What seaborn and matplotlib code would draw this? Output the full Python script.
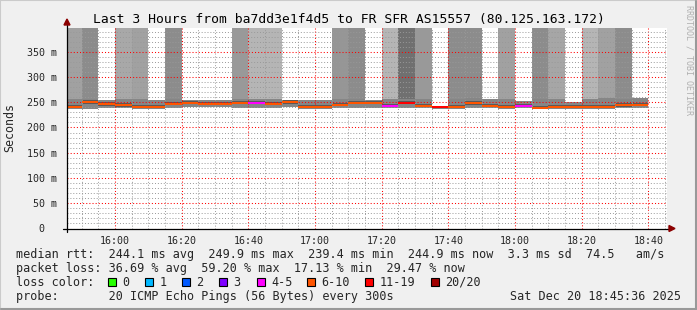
import matplotlib
matplotlib.use("Agg")
import matplotlib.pyplot as plt
import numpy as np
import pandas as pd
import seaborn as sns
from matplotlib.patches import Rectangle, Polygon
from matplotlib.ticker import FixedLocator, MultipleLocator

# ---------------- data ----------------
seg_end = ["15:50", "15:55", "16:00", "16:05", "16:10", "16:15", "16:20", "16:25",
           "16:30", "16:35", "16:40", "16:45", "16:50", "16:55", "17:00", "17:05",
           "17:10", "17:15", "17:20", "17:25", "17:30", "17:35", "17:40", "17:45",
           "17:50", "17:55", "18:00", "18:05", "18:10", "18:15", "18:20", "18:25",
           "18:30", "18:35", "18:40"]
median_ms = [241.5, 249.9, 246.0, 244.0, 241.5, 241.5, 246.7, 249.4, 246.7, 246.7,
             249.4, 249.4, 246.7, 249.5, 241.5, 241.5, 245.4, 249.0, 248.7, 242.2,
             249.4, 242.8, 241.0, 241.5, 248.0, 242.8, 241.5, 242.8, 239.4, 241.0,
             241.0, 240.5, 240.5, 244.0, 244.9]
loss_class = ["6-10"] * 11 + ["4-5"] + ["6-10"] * 7 + ["4-5", "11-19", "6-10", "11-19"] \
    + ["6-10"] * 4 + ["4-5"] + ["6-10"] * 7
smoke_lo = [237.5, 237.0, 239.0, 238.0, 237.0, 237.5, 238.0, 241.0, 240.0, 240.0,
            239.0, 238.0, 238.0, 240.0, 236.9, 236.9, 238.8, 238.8, 239.5, 238.8,
            238.8, 238.8, 236.9, 237.5, 238.8, 238.8, 237.5, 238.0, 236.9, 236.9,
            236.9, 236.9, 237.5, 238.8, 238.8]
smoke_hi = [256.6, 256.6, 254.6, 255.6, 256.6, 254.6, 256.6, 253.6, 253.6, 253.6,
            255.6, 255.6, 255.6, 254.6, 254.6, 254.6, 255.6, 256.6, 254.6, 256.6,
            256.6, 256.6, 243.5, 256.6, 257.6, 255.6, 256.6, 252.6, 256.6, 256.6,
            250.6, 256.6, 257.6, 256.6, 258.6]
spike_density = [0.37, 0.45, 0.0, 0.34, 0.37, 0.0, 0.45, 0.0, 0.0, 0.0,
                 0.40, 0.29, 0.29, 0.0, 0.0, 0.0, 0.41, 0.45, 0.0, 0.29,
                 0.56, 0.40, 0.0, 0.45, 0.45, 0.0, 0.37, 0.0, 0.45, 0.35,
                 0.0, 0.29, 0.37, 0.45, 0.0]

y_ticks = [0, 50, 100, 150, 200, 250, 300, 350]
y_tick_labels = ["0  ", "50 m", "100 m", "150 m", "200 m", "250 m", "300 m", "350 m"]
x_tick_labels = ["16:00", "16:20", "16:40", "17:00", "17:20", "17:40", "18:00", "18:20", "18:40"]
legend_classes = ["0", "1", "2", "3", "4-5", "6-10", "11-19", "20/20"]

title = "Last 3 Hours from ba7dd3e1f4d5 to FR SFR AS15557 (80.125.163.172)"
start_time = "15:45:36"
end_time = "18:45:36"
row_rtt = "median rtt:  244.1 ms avg  249.9 ms max  239.4 ms min  244.9 ms now  3.3 ms sd  74.5   am/s"
row_loss = "packet loss: 36.69 % avg  59.20 % max  17.13 % min  29.47 % now"
row_probe = "probe:       20 ICMP Echo Pings (56 Bytes) every 300s"
stamp = "Sat Dec 20 18:45:36 2025"

# ---------------- style ----------------
loss_colors = {"0": "#26ff00", "1": "#00b8ff", "2": "#0059ff", "3": "#7e00ff",
               "4-5": "#ff00ff", "6-10": "#ff5500", "11-19": "#ff0000", "20/20": "#a10000"}

sns.set_theme(style="white")
plt.rcParams['font.family'] = ['DejaVu Sans Mono', 'DejaVu Sans']

W, H = 697, 310
BG = "#f0f0f0"


def to_min(s):
    p = [int(v) for v in s.split(":")]
    return p[0] * 60 + p[1] + (p[2] / 60 if len(p) > 2 else 0)


def fx(x):
    return x / W


def fy(y):
    return 1 - y / H


fig = plt.figure(figsize=(W / 100, H / 100), dpi=100, facecolor=BG)

AX_L, AX_R, AX_T, AX_B = 67, 667, 28, 228.5
ax = fig.add_axes([fx(AX_L), fy(AX_B), (AX_R - AX_L) / W, (AX_B - AX_T) / H])
ax.set_facecolor("white")

ends = np.array([to_min(s) for s in seg_end])
starts = ends - 5
x0, x1 = to_min(start_time), to_min(end_time)

# spikes (tall smoke)
for s, e, d, hi in zip(starts, ends, spike_density, smoke_hi):
    if d > 0:
        g = 1 - d
        ax.bar(s, 1000 - hi, bottom=hi, width=e - s, align="edge",
               color=(g, g, g), linewidth=0, zorder=1)

# smoke band around the median
for s, e, lo, hi, m in zip(starts, ends, smoke_lo, smoke_hi, median_ms):
    ax.bar(s, hi - lo, bottom=lo, width=e - s, align="edge",
           color="#868686", linewidth=0, zorder=1.2)
    c_lo = max(lo, m - 2.5)
    c_hi = min(hi, m + 4.0)
    ax.bar(s, c_hi - c_lo, bottom=c_lo, width=e - s, align="edge",
           color="#5a5a5a", linewidth=0, zorder=1.3)

# median line coloured by loss
rows = []
for i, (s, e, m, lc) in enumerate(zip(starts, ends, median_ms, loss_class)):
    rows.append({"t": s, "rtt": m, "seg": i, "loss": lc})
    rows.append({"t": e, "rtt": m, "seg": i, "loss": lc})
df = pd.DataFrame(rows)
sns.lineplot(data=df, x="t", y="rtt", hue="loss", units="seg", estimator=None,
             palette=loss_colors, legend=False, linewidth=1.45, ax=ax, zorder=4,
             solid_capstyle="butt")
ax.set_xlabel("")
ax.set_ylabel("")
ax.set_xlim(x0, x1)
ax.set_ylim(0, 397)

# grid
ax.yaxis.set_major_locator(FixedLocator(y_ticks))
ax.yaxis.set_minor_locator(MultipleLocator(10))
xt = [to_min(s) for s in x_tick_labels]
ax.xaxis.set_major_locator(FixedLocator(xt))
ax.xaxis.set_minor_locator(MultipleLocator(5))
ax.set_yticklabels(y_tick_labels)
ax.set_xticklabels(x_tick_labels)
ax.set_axisbelow(False)
ax.grid(which="minor", color=(0.6, 0.6, 0.6, 0.32), linestyle=(0, (1, 2)), linewidth=0.7)
ax.grid(which="major", color=(1.0, 0.0, 0.0, 0.32), linestyle=(0, (1, 2)), linewidth=0.75)
ax.tick_params(axis="both", which="major", labelsize=7.2, length=3, width=0.8,
               color="#404040", direction="out", pad=3)
ax.tick_params(axis="both", which="minor", length=2, width=0.7, color="#a0a0a0", direction="out")
ax.tick_params(axis="y", which="major", pad=4.5)
ax.tick_params(axis="x", which="major", pad=2.5)
for lab in ax.get_yticklabels() + ax.get_xticklabels():
    lab.set_fontfamily("DejaVu Sans Mono")
for sp in ax.spines.values():
    sp.set_visible(False)

# axis lines with arrows
ax_w, ax_h = AX_R - AX_L, AX_B - AX_T


def axx(p):
    return (p - AX_L) / ax_w


def axy(q):
    return (AX_B - q) / ax_h


ax.plot([axx(63), axx(670)], [0, 0], transform=ax.transAxes, color="black",
        lw=0.9, clip_on=False, zorder=6)
ax.plot([0, 0], [axy(232), axy(25)], transform=ax.transAxes, color="black",
        lw=0.9, clip_on=False, zorder=6)
ax.add_patch(Polygon([[axx(669), axy(225.5)], [axx(669), axy(231.5)], [axx(675), axy(228.5)]],
                     closed=True, transform=ax.transAxes, color="#8b0000", clip_on=False, zorder=7))
ax.add_patch(Polygon([[axx(64), axy(25)], [axx(70), axy(25)], [axx(67), axy(19)]],
                     closed=True, transform=ax.transAxes, color="#8b0000", clip_on=False, zorder=7))

# frame shading
fig.patches.append(Rectangle((0, 0), 1, 1, transform=fig.transFigure, fill=False,
                             edgecolor="#cbcbcb", linewidth=1.5, zorder=0))
fig.add_artist(plt.Line2D([fx(1), fx(696)], [fy(309), fy(309)], color="#999999", lw=1.5))
fig.add_artist(plt.Line2D([fx(696), fx(696)], [fy(1), fy(309)], color="#999999", lw=1.5))

# texts
fig.text(0.5, fy(19), title, ha="center", va="center", fontsize=9.4, color="black")
fig.text(fx(10), fy(127), "Seconds", rotation=90, ha="center", va="center", fontsize=8.4)
fig.text(fx(689), fy(5), "RRDTOOL / TOBI OETIKER", rotation=270, ha="center", va="top",
         fontsize=6, color="#b0b0b0")

FS = 8.45
r1, r2, r3, r4 = 254.5, 268.3, 282.3, 296.3
fig.text(fx(16), fy(r1), row_rtt, va="center", fontsize=FS)
fig.text(fx(16), fy(r2), row_loss, va="center", fontsize=FS)
fig.text(fx(16), fy(r3), "loss color:", va="center", fontsize=FS)
box_x = [108, 145, 182, 219, 256.5, 307, 365, 431]
lab_x = [122.5, 159.5, 196.5, 233.5, 271, 321.5, 379.5, 445.5]
for bx, lx, cls in zip(box_x, lab_x, legend_classes):
    fig.patches.append(Rectangle((fx(bx), fy(r3 + 4)), 8 / W, 8 / H, transform=fig.transFigure,
                                 facecolor=loss_colors[cls], edgecolor="black", linewidth=0.8))
    fig.text(fx(lx), fy(r3), cls, va="center", fontsize=FS)
fig.text(fx(16), fy(r4), row_probe, va="center", fontsize=FS)
fig.text(fx(681), fy(r4), stamp, va="center", ha="right", fontsize=FS)

fig.savefig("out.png", dpi=100, facecolor=BG)
